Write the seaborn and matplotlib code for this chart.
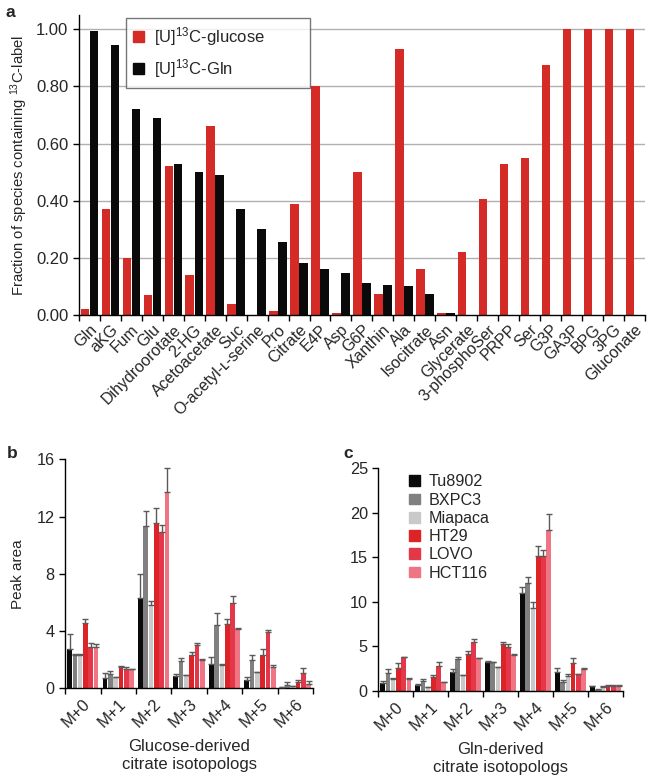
import matplotlib
matplotlib.use("Agg")
import matplotlib.pyplot as plt
from matplotlib.patches import Patch
import numpy as np
import pandas as pd
import seaborn as sns

sns.set_style("ticks")
plt.rcParams['font.family'] = ['Liberation Sans', 'DejaVu Sans']
plt.rcParams['mathtext.default'] = 'regular'

# panel a data
metabolites = ['Gln', 'aKG', 'Fum', 'Glu', 'Dihydroorotate', '2-HG', 'Acetoacetate', 'Suc',
               'O-acetyl-ʟ-serine', 'Pro', 'Citrate', 'E4P', 'Asp', 'G6P', 'Xanthin', 'Ala',
               'Isocitrate', 'Asn', 'Glycerate', '3-phosphoSer', 'PRPP', 'Ser', 'G3P', 'GA3P',
               'BPG', '3PG', 'Gluconate']
glucose_frac = [0.02, 0.37, 0.20, 0.07, 0.52, 0.14, 0.66, 0.04, 0.0, 0.016, 0.39, 0.80, 0.008,
                0.50, 0.074, 0.93, 0.16, 0.009, 0.22, 0.405, 0.53, 0.548, 0.873, 1.0, 1.0, 1.0, 1.0]
gln_frac = [0.995, 0.945, 0.72, 0.69, 0.53, 0.50, 0.49, 0.37, 0.30, 0.257, 0.182, 0.163, 0.146,
            0.111, 0.107, 0.103, 0.074, 0.006, 0, 0, 0, 0, 0, 0, 0, 0, 0]
tracers = ['[U]$^{13}$C-glucose', '[U]$^{13}$C-Gln']

# panels b, c data
isotopologs = ['M+0', 'M+1', 'M+2', 'M+3', 'M+4', 'M+5', 'M+6']
cell_lines = ['Tu8902', 'BXPC3', 'Miapaca', 'HT29', 'LOVO', 'HCT116']
line_colors = ['#0a0a0a', '#808080', '#c9c9c9', '#dc2428', '#e4384a', '#f07584']

glc_tu8902 = [2.70, 0.73, 6.31, 0.82, 1.70, 0.58, 0.07]
glc_bxpc3 = [2.28, 1.01, 11.33, 1.90, 4.42, 1.99, 0.19]
glc_miapaca = [2.28, 0.78, 5.79, 0.89, 1.64, 1.10, 0.12]
glc_ht29 = [4.52, 1.44, 11.56, 2.31, 4.46, 2.31, 0.40]
glc_lovo = [2.85, 1.36, 10.93, 3.01, 5.98, 3.90, 1.07]
glc_hct116 = [2.85, 1.32, 13.74, 1.94, 4.11, 1.47, 0.30]
glc_err_tu8902 = [1.06, 0.33, 1.70, 0.18, 0.47, 0.19, 0.03]
glc_err_bxpc3 = [0.07, 0.19, 1.07, 0.20, 0.84, 0.35, 0.23]
glc_err_miapaca = [0.10, 0.02, 0.31, 0.05, 0.06, 0.02, 0.02]
glc_err_ht29 = [0.28, 0.11, 1.04, 0.21, 0.35, 0.45, 0.14]
glc_err_lovo = [0.33, 0.08, 0.47, 0.17, 0.45, 0.19, 0.33]
glc_err_hct116 = [0.23, 0.02, 1.68, 0.06, 0.09, 0.12, 0.17]

gln_tu8902 = [0.94, 0.67, 2.17, 3.26, 11.04, 2.17, 0.52]
gln_bxpc3 = [1.98, 1.12, 3.63, 3.22, 12.09, 1.01, 0.15]
gln_miapaca = [1.38, 0.49, 1.76, 2.66, 9.36, 1.68, 0.41]
gln_ht29 = [2.62, 1.61, 4.15, 5.31, 15.19, 3.11, 0.60]
gln_lovo = [3.78, 2.81, 5.54, 4.98, 15.12, 1.87, 0.56]
gln_hct116 = [1.35, 1.05, 3.70, 4.08, 18.08, 2.43, 0.56]
gln_err_tu8902 = [0.18, 0.08, 0.30, 0.11, 0.67, 0.45, 0.03]
gln_err_bxpc3 = [0.49, 0.26, 0.22, 0.08, 0.75, 0.23, 0.05]
gln_err_miapaca = [0.04, 0.01, 0.02, 0.04, 0.67, 0.19, 0.19]
gln_err_ht29 = [0.48, 0.15, 0.34, 0.15, 1.09, 0.56, 0.11]
gln_err_lovo = [0.02, 0.41, 0.26, 0.30, 0.64, 0.03, 0.15]
gln_err_hct116 = [0.11, 0.02, 0.02, 0.02, 1.76, 0.11, 0.11]

glc_means = [glc_tu8902, glc_bxpc3, glc_miapaca, glc_ht29, glc_lovo, glc_hct116]
glc_errs = [glc_err_tu8902, glc_err_bxpc3, glc_err_miapaca, glc_err_ht29, glc_err_lovo, glc_err_hct116]
gln_means = [gln_tu8902, gln_bxpc3, gln_miapaca, gln_ht29, gln_lovo, gln_hct116]
gln_errs = [gln_err_tu8902, gln_err_bxpc3, gln_err_miapaca, gln_err_ht29, gln_err_lovo, gln_err_hct116]


def long_table(means):
    rows = []
    for line, vals in zip(cell_lines, means):
        for iso, v in zip(isotopologs, vals):
            rows.append({'iso': iso, 'line': line, 'value': v})
    return pd.DataFrame(rows)


fig = plt.figure(figsize=(6.51, 7.8), dpi=100)

# ---- panel a
ax = fig.add_axes([0.121, 0.596, 0.870, 0.385])
df_a = pd.DataFrame({'metabolite': metabolites * 2,
                     'tracer': [tracers[0]] * len(metabolites) + [tracers[1]] * len(metabolites),
                     'value': glucose_frac + gln_frac})
sns.barplot(data=df_a, x='metabolite', y='value', hue='tracer', order=metabolites,
            hue_order=tracers, palette=['#d42b27', '#0a0a0a'], width=0.86, gap=0.08,
            saturation=1, linewidth=0, ax=ax, legend=False, zorder=2)
ax.set_xlim(-0.5, len(metabolites) - 0.5)
ax.set_ylim(0, 1.05)
ax.set_yticks(np.arange(0, 1.01, 0.2))
ax.set_yticklabels(['%.2f' % v for v in np.arange(0, 1.01, 0.2)], fontsize=12)
for v in np.arange(0.2, 1.01, 0.2):
    ax.axhline(v, color='#b0b0b0', lw=1, zorder=1)
ax.set_xticks(range(len(metabolites)))
ax.set_xticklabels(metabolites, rotation=45, ha='right', rotation_mode='anchor', fontsize=11.5)
ax.tick_params(axis='x', length=0, pad=5)
ax.set_xticks(np.arange(-0.5, len(metabolites)), minor=True)
ax.tick_params(axis='x', which='minor', length=4, width=1, color='black')
ax.tick_params(axis='y', length=4, width=1, color='black')
ax.set_xlabel('')
ax.set_ylabel('Fraction of species containing $^{13}$C-label', fontsize=10.7, labelpad=4)
sns.despine(ax=ax)
for s in ['left', 'bottom']:
    ax.spines[s].set_linewidth(1)
    ax.spines[s].set_color('black')
leg = ax.legend(handles=[Patch(color='#d42b27'), Patch(color='#0a0a0a')], labels=tracers,
                loc='upper left', bbox_to_anchor=(0.083, 0.99, 0.325, 0.0), mode='expand',
                fontsize=12, frameon=True, fancybox=False, edgecolor='#555555',
                handlelength=0.65, handleheight=0.65, borderpad=0.45, labelspacing=0.55,
                handletextpad=0.6, borderaxespad=0)
leg.get_frame().set_linewidth(1)
leg.set_zorder(5)
fig.text(0.008, 0.993, 'a', fontsize=12.5, fontweight='bold', va='top')


def panel(ax, means, errs, ymax, yticks, xlabel):
    df = long_table(means)
    sns.barplot(data=df, x='iso', y='value', hue='line', order=isotopologs, hue_order=cell_lines,
                palette=line_colors, width=0.9, gap=0.12, saturation=1, linewidth=0, ax=ax,
                legend=False)
    for cont, err in zip(ax.containers, errs):
        xs = [b.get_x() + b.get_width() / 2 for b in cont]
        ys = [b.get_height() for b in cont]
        ax.errorbar(xs, ys, yerr=[np.zeros(len(err)), err], fmt='none', ecolor='#5a5a5a',
                    elinewidth=1, capsize=2.5, capthick=1, zorder=3)
    ax.set_xlim(-0.5, len(isotopologs) - 0.5)
    ax.set_ylim(0, ymax)
    ax.set_yticks(yticks)
    ax.tick_params(axis='y', labelsize=11.7, length=4, width=1, color='black')
    ax.set_xticks(range(len(isotopologs)))
    ax.set_xticklabels(isotopologs, rotation=45, ha='right', rotation_mode='anchor', fontsize=12)
    ax.tick_params(axis='x', length=0, pad=6)
    ax.set_xticks(np.arange(-0.5, len(isotopologs)), minor=True)
    ax.tick_params(axis='x', which='minor', length=4, width=1, color='black')
    ax.set_xlabel(xlabel, fontsize=12, linespacing=1.25, labelpad=6)
    sns.despine(ax=ax)
    for s in ['left', 'bottom']:
        ax.spines[s].set_linewidth(1)
        ax.spines[s].set_color('black')


# ---- panel b
axb = fig.add_axes([0.100, 0.118, 0.381, 0.293])
panel(axb, glc_means, glc_errs, 16, [0, 4, 8, 12, 16], 'Glucose-derived\ncitrate isotopologs')
axb.set_ylabel('Peak area', fontsize=11, labelpad=8)
fig.text(0.01, 0.428, 'b', fontsize=12.5, fontweight='bold', va='top')

# ---- panel c
axc = fig.add_axes([0.581, 0.114, 0.376, 0.286])
panel(axc, gln_means, gln_errs, 25, [0, 5, 10, 15, 20, 25], 'Gln-derived\ncitrate isotopologs')
axc.set_ylabel('')
axc.legend(handles=[Patch(color=c) for c in line_colors], labels=cell_lines, loc='upper left',
           bbox_to_anchor=(0.1, 1.0), fontsize=11.6, frameon=False, handlelength=0.65,
           handleheight=0.65, labelspacing=0.2, handletextpad=0.55, borderaxespad=0)
fig.text(0.527, 0.428, 'c', fontsize=12.5, fontweight='bold', va='top')

fig.savefig('out.png', dpi=100)
